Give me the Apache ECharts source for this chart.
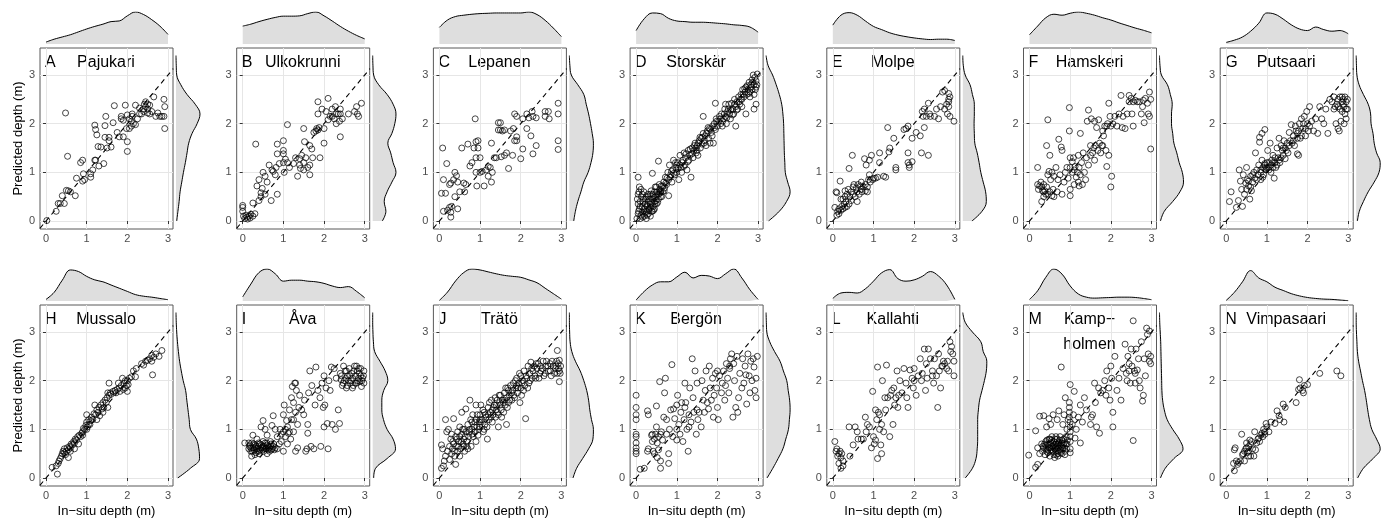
<!DOCTYPE html>
<html>
<head>
<meta charset="utf-8">
<script src="https://cdn.jsdelivr.net/npm/echarts@6/dist/echarts.min.js"></script>
<style>
  html, body { margin: 0; padding: 0; background: #fff; }
  #chart { width: 1389px; height: 521px; }
</style>
</head>
<body>
<div id="chart"></div>
<script>
// panel letters and site names
const letters = ['A', 'B', 'C', 'D', 'E', 'F', 'G', 'H', 'I', 'J', 'K', 'L', 'M', 'N'];
const sites = ['Pajukari', 'Ulkokrunni', 'Lepanen', 'Storskär', 'Molpe', 'Hamskeri', 'Putsaari',
               'Mussalo', 'Åva', 'Trätö', 'Bergön', 'Kallahti', 'Kamp−\nholmen', 'Vimpasaari'];

const tickValues = [0, 1, 2, 3];
const oneToOne = [-0.15, 3.13];

// marginal density sample positions
const densX = [0, 0.2, 0.4, 0.6, 0.8, 1, 1.2, 1.4, 1.6, 1.8, 2, 2.2, 2.4, 2.6, 2.8, 3];
const densY = ['0', '0.2', '0.4', '0.6', '0.8', '1', '1.2', '1.4', '1.6', '1.8', '2', '2.2', '2.4', '2.6', '2.8', '3', '3.2', '3.4'];

// [in-situ depth, predicted depth]
const ptsA = [[0.02,0.01],[0.3,0.36],[0.35,0.36],[0.45,0.36],[0.25,0.2],[0.4,0.52],[0.48,2.22],[0.53,1.33],[0.55,0.62],[0.5,0.63],[0.6,0.6],[0.72,0.52],[0.75,0.88],[0.85,1.2],[0.9,1.25],[0.92,0.97],[0.9,0.82],[0.95,0.85],[1.1,0.9],[1.1,0.97],[1.15,1.05],[1.2,1.25],[1.22,1.25],[1.2,1.97],[1.22,1.88],[1.25,1.77],[1.28,1.53],[1.3,1.13],[1.35,1.52],[1.42,1.18],[1.45,1.72],[1.45,1.96],[1.47,2.15],[1.5,1.5],[1.55,1.72],[1.55,1.65],[1.6,1.52],[1.65,2.02],[1.68,2.37],[1.75,1.82],[1.8,1.73],[1.85,2.15],[1.9,2.07],[1.9,1.73],[1.95,2.38],[1.98,1.9],[2.0,1.43],[2.0,1.63],[2.0,2.18],[2.05,2.1],[2.1,2.05],[2.1,1.95],[2.12,2.2],[2.15,2.0],[2.2,2.38],[2.2,1.98],[2.25,2.1],[2.3,2.32],[2.35,2.2],[2.4,2.3],[2.42,2.4],[2.45,2.45],[2.45,2.35],[2.5,2.3],[2.5,2.22],[2.55,2.38],[2.6,2.25],[2.65,2.55],[2.7,2.15],[2.75,2.22],[2.8,2.15],[2.85,2.15],[2.9,2.5],[2.92,2.35],[2.92,1.9],[2.9,2.15],[2.4,2.25],[2.3,2.2],[2.05,1.9],[1.85,2.1],[2.12,2.15],[2.5,2.4],[2.55,2.2]];
const ptsB = [[0,0.32],[0,0.28],[0,0.2],[0.02,0.1],[0.05,0.05],[0.08,0.12],[0.1,0.08],[0.12,0.04],[0.15,0.1],[0.18,0.06],[0.2,0.14],[0.25,0.1],[0.25,0.37],[0.3,0.15],[0.32,1.58],[0.35,0.72],[0.4,0.42],[0.4,0.85],[0.45,0.5],[0.45,0.58],[0.48,0.67],[0.5,1.0],[0.55,0.92],[0.55,0.55],[0.6,0.8],[0.65,1.15],[0.7,0.42],[0.72,1.05],[0.75,1.02],[0.8,0.95],[0.82,1.1],[0.85,1.58],[0.85,1.38],[0.85,0.55],[0.9,1.18],[1.0,1.65],[1.0,1.45],[1.0,1.38],[1.0,1.2],[1.02,1.0],[1.05,1.27],[1.1,1.98],[1.1,1.2],[1.15,1.1],[1.25,1.18],[1.3,1.3],[1.35,0.92],[1.4,1.15],[1.4,1.28],[1.42,1.08],[1.45,1.35],[1.5,1.2],[1.5,1.05],[1.5,1.9],[1.52,1.63],[1.55,1.3],[1.6,1.1],[1.65,1.55],[1.65,1.15],[1.65,0.95],[1.7,1.48],[1.72,1.3],[1.75,1.82],[1.8,1.85],[1.82,1.9],[1.85,2.45],[1.85,2.2],[1.85,1.87],[1.88,1.92],[1.9,1.3],[1.95,2.3],[2.0,1.6],[2.0,1.9],[2.05,2.25],[2.1,2.52],[2.1,2.08],[2.15,2.15],[2.2,2.3],[2.25,2.1],[2.28,2.35],[2.3,2.2],[2.3,2.0],[2.35,2.2],[2.38,2.05],[2.4,1.73],[2.4,2.3],[2.45,2.1],[2.6,2.2],[2.75,2.25],[2.8,2.35],[2.82,2.2],[2.85,2.15],[2.92,2.42],[2.4,2.2],[2.2,2.15]];
const ptsC = [[0.05,0.57],[0.08,1.5],[0.1,0.85],[0.1,0.2],[0.15,0.57],[0.18,1.18],[0.2,0.22],[0.25,0.28],[0.25,0.75],[0.28,0.78],[0.28,0.08],[0.28,0.18],[0.3,0.3],[0.35,0.85],[0.38,1.0],[0.38,0.5],[0.42,0.93],[0.45,0.25],[0.45,0.8],[0.5,0.6],[0.55,1.5],[0.6,0.78],[0.62,0.6],[0.65,0.75],[0.7,1.58],[0.75,1.13],[0.8,1.2],[0.85,1.5],[0.88,2.1],[0.9,1.63],[0.9,1.3],[0.9,1.0],[0.92,0.72],[0.95,1.65],[0.95,1.5],[1.0,1.3],[1.0,1.0],[1.05,1.02],[1.1,0.72],[1.15,1.05],[1.2,1.12],[1.2,0.92],[1.25,1.1],[1.28,1.6],[1.28,0.8],[1.3,1.0],[1.35,1.3],[1.4,1.3],[1.45,1.87],[1.45,2.02],[1.5,2.02],[1.5,1.87],[1.52,1.32],[1.55,1.85],[1.6,1.87],[1.6,1.35],[1.65,1.4],[1.7,1.08],[1.75,1.85],[1.8,1.35],[1.82,1.9],[1.85,2.2],[1.85,1.65],[1.9,1.65],[1.9,1.73],[1.9,2.15],[2.0,1.28],[2.05,1.48],[2.05,2.1],[2.15,2.2],[2.15,1.9],[2.2,2.12],[2.25,1.75],[2.28,2.25],[2.3,2.15],[2.3,1.38],[2.38,2.12],[2.38,1.55],[2.6,2.25],[2.6,2.15],[2.68,2.25],[2.7,2.1],[2.92,2.42],[2.92,2.2],[2.92,1.65],[2.92,1.47]];
const ptsD = [[0.02,0.05],[0.05,0.15],[0.05,0.35],[0.05,0.55],[0.05,0.9],[0.08,0.25],[0.08,0.7],[0.1,0.05],[0.1,0.4],[0.12,0.12],[0.12,0.65],[0.15,0.3],[0.15,0.18],[0.18,0.45],[0.2,0.1],[0.2,0.25],[0.22,0.35],[0.25,0.2],[0.25,0.5],[0.28,0.3],[0.3,0.15],[0.3,0.4],[0.32,0.25],[0.35,0.55],[0.35,0.35],[0.38,0.2],[0.4,0.45],[0.4,0.98],[0.42,0.3],[0.45,0.6],[0.45,0.4],[0.48,0.5],[0.5,0.35],[0.5,0.7],[0.52,0.55],[0.55,0.45],[0.55,1.23],[0.58,0.65],[0.6,0.5],[0.62,0.72],[0.65,0.6],[0.68,0.8],[0.7,0.68],[0.72,0.9],[0.75,0.75],[0.78,1.0],[0.8,0.52],[0.8,0.85],[0.82,1.15],[0.85,0.95],[0.88,0.8],[0.9,1.05],[0.92,1.25],[0.95,0.95],[0.98,1.1],[1.0,1.0],[1.02,1.2],[1.05,0.85],[1.08,1.35],[1.1,1.1],[1.12,1.0],[1.15,1.25],[1.18,1.4],[1.2,1.15],[1.22,1.3],[1.25,1.05],[1.28,1.45],[1.3,1.25],[1.32,1.35],[1.35,0.9],[1.38,1.5],[1.4,1.3],[1.42,1.45],[1.45,1.6],[1.48,1.4],[1.5,1.55],[1.52,1.35],[1.55,1.65],[1.58,1.5],[1.6,1.7],[1.62,1.58],[1.65,2.15],[1.65,1.8],[1.68,1.65],[1.7,1.75],[1.72,1.55],[1.75,1.85],[1.78,1.7],[1.8,1.9],[1.82,1.6],[1.85,1.82],[1.88,1.95],[1.9,1.6],[1.92,2.0],[1.95,2.42],[1.95,1.88],[1.98,2.05],[2.0,1.95],[2.05,2.15],[2.08,2.0],[2.1,2.2],[2.12,1.95],[2.15,2.1],[2.18,2.3],[2.2,2.15],[2.22,2.0],[2.25,2.25],[2.28,2.4],[2.3,2.2],[2.32,2.1],[2.35,2.42],[2.38,2.3],[2.4,2.2],[2.42,2.5],[2.45,1.95],[2.45,2.35],[2.48,2.45],[2.5,2.3],[2.52,2.55],[2.55,2.4],[2.58,2.6],[2.6,2.5],[2.62,2.7],[2.65,2.55],[2.68,2.65],[2.7,2.2],[2.7,2.75],[2.72,2.6],[2.75,2.7],[2.78,2.85],[2.8,2.65],[2.82,2.8],[2.85,2.9],[2.85,2.7],[2.88,3.0],[2.9,2.3],[2.9,2.8],[2.92,2.95],[2.95,2.4],[2.95,2.75],[2.95,2.88],[2.98,3.02],[2.9,2.6],[2.8,2.55],[2.6,2.35],[2.2,2.4],[1.5,1.45],[1.0,1.15],[0.6,0.6],[0.3,0.5],[0.15,0.55],[0.25,0.05],[0.35,0.1],[0.4,0.2],[0.45,0.25],
  [0.03,0.45],[0.06,0.2],[0.07,0.6],[0.1,0.3],[0.13,0.5],[0.16,0.08],[0.17,0.38],[0.19,0.6],[0.21,0.18],[0.23,0.45],[0.26,0.32],[0.27,0.12],[0.29,0.55],[0.31,0.22],[0.33,0.45],[0.36,0.28],[0.37,0.62],[0.39,0.38],[0.41,0.55],[0.43,0.22],[0.44,0.48],[0.46,0.35],[0.47,0.7],[0.49,0.42],[0.51,0.6],[0.53,0.38],[0.56,0.55],[0.57,0.75],[0.59,0.58],[0.61,0.62],[0.63,0.5],[0.66,0.72],[0.69,0.62],[0.73,0.78],[0.76,0.88],[0.84,0.9],[0.87,1.02],[0.93,0.98],[0.97,1.2],[1.03,1.08],[1.07,1.15],[1.13,1.2],[1.17,1.12],[1.23,1.38],[1.27,1.22],[1.33,1.48],[1.37,1.38],[1.43,1.55],[1.47,1.5],[1.53,1.6],[1.57,1.72],[1.63,1.72],[1.67,1.6],[1.73,1.8],[1.77,1.92],[1.83,1.88],[1.87,1.75],[1.93,1.92],[1.97,2.1],[2.03,2.05],[2.07,2.1],[2.13,2.05],[2.17,2.2],[2.23,2.12],[2.27,2.3],[2.33,2.28],[2.37,2.18],[2.43,2.4],[2.47,2.28],[2.53,2.45],[2.57,2.5],[2.63,2.6],[2.67,2.72],[2.73,2.78],[2.77,2.62],[2.83,2.75],[2.87,2.85],[2.93,2.7],[2.97,2.8]];
const ptsE = [[0.05,0.28],[0.08,0.6],[0.1,0.12],[0.1,0.58],[0.12,0.2],[0.15,0.25],[0.18,0.82],[0.2,0.22],[0.22,0.3],[0.25,0.25],[0.25,0.45],[0.28,0.35],[0.3,0.28],[0.3,0.5],[0.32,0.4],[0.35,0.3],[0.35,0.55],[0.38,0.65],[0.4,0.35],[0.4,1.08],[0.42,0.5],[0.45,0.6],[0.45,0.42],[0.48,1.35],[0.5,0.7],[0.5,0.55],[0.52,0.75],[0.55,0.5],[0.58,0.68],[0.6,0.6],[0.62,0.75],[0.65,0.55],[0.68,0.72],[0.7,0.65],[0.72,0.6],[0.75,0.7],[0.78,1.28],[0.8,0.62],[0.8,0.75],[0.82,1.15],[0.85,0.7],[0.88,0.85],[0.9,0.95],[0.9,1.25],[0.92,0.8],[0.95,1.35],[0.98,0.85],[1.0,0.88],[1.05,0.88],[1.1,0.9],[1.15,1.2],[1.15,1.4],[1.25,0.92],[1.3,0.9],[1.35,1.92],[1.38,1.42],[1.4,1.5],[1.5,1.7],[1.55,1.05],[1.55,1.1],[1.75,1.88],[1.8,1.9],[1.85,1.95],[1.85,1.4],[1.85,1.2],[1.88,1.1],[1.88,1.15],[1.95,1.7],[1.95,1.22],[2.05,1.82],[2.15,1.75],[2.18,1.4],[2.22,2.15],[2.25,1.92],[2.25,2.3],[2.3,2.15],[2.35,1.35],[2.35,2.42],[2.38,2.2],[2.4,2.15],[2.5,2.15],[2.55,2.3],[2.6,2.1],[2.65,2.35],[2.7,2.65],[2.75,2.68],[2.75,2.3],[2.8,2.4],[2.82,2.2],[2.85,2.62],[2.85,2.5],[2.85,2.45],[2.85,2.35],[2.88,2.55],[2.88,2.15],[2.98,2.05],[2.2,2.25],[0.6,0.4],[0.3,0.62],[0.15,0.15],[0.2,0.45],[0.7,0.8],[0.85,0.6]];
const ptsF = [[0.2,1.1],[0.2,0.75],[0.22,0.65],[0.25,0.72],[0.28,0.8],[0.3,0.7],[0.3,0.4],[0.32,0.62],[0.35,0.75],[0.35,0.5],[0.38,0.62],[0.4,0.55],[0.42,0.7],[0.42,1.55],[0.45,2.08],[0.45,0.95],[0.48,1.02],[0.5,0.6],[0.5,1.35],[0.52,0.85],[0.55,0.52],[0.55,1.0],[0.58,0.65],[0.6,0.92],[0.6,0.5],[0.65,1.1],[0.68,0.6],[0.7,0.85],[0.72,1.68],[0.75,0.95],[0.78,1.52],[0.8,1.45],[0.8,0.55],[0.85,0.8],[0.88,1.0],[0.92,1.1],[0.95,0.88],[0.98,2.33],[0.98,1.85],[1.0,1.3],[1.0,1.1],[1.0,0.65],[1.0,0.52],[1.05,1.0],[1.05,1.22],[1.08,1.3],[1.1,1.05],[1.12,1.12],[1.15,0.9],[1.18,1.0],[1.2,1.35],[1.2,0.8],[1.22,1.1],[1.22,0.72],[1.25,1.8],[1.25,0.95],[1.28,1.2],[1.3,0.75],[1.32,1.4],[1.35,1.0],[1.38,0.85],[1.4,1.3],[1.42,2.05],[1.45,1.15],[1.45,2.28],[1.5,1.55],[1.52,2.1],[1.55,1.4],[1.58,1.5],[1.6,2.05],[1.6,1.25],[1.62,1.55],[1.65,1.92],[1.68,1.45],[1.7,2.08],[1.72,1.6],[1.75,1.4],[1.78,1.55],[1.8,1.85],[1.8,1.55],[1.82,1.75],[1.85,1.95],[1.88,1.45],[1.9,1.12],[1.92,2.0],[1.95,2.42],[1.95,1.35],[1.98,2.15],[2.0,1.95],[2.0,0.7],[2.02,0.92],[2.05,2.0],[2.1,2.15],[2.15,1.95],[2.2,2.2],[2.25,2.58],[2.28,1.92],[2.35,1.9],[2.4,2.2],[2.45,2.58],[2.45,2.45],[2.5,2.52],[2.52,2.2],[2.55,1.95],[2.6,2.48],[2.65,2.45],[2.7,2.45],[2.75,2.2],[2.78,2.35],[2.8,2.48],[2.82,2.02],[2.85,2.52],[2.9,2.42],[2.92,2.2],[2.95,2.65],[2.95,2.15],[2.98,2.5],[2.98,1.48],[2.55,2.45],[2.3,2.15],[1.9,1.95],[1.5,1.35],[1.1,0.75],[0.35,0.6],[0.45,0.55]];
const ptsG = [[0.08,0.4],[0.12,0.6],[0.25,0.28],[0.3,0.42],[0.32,1.05],[0.35,0.82],[0.38,0.65],[0.4,0.3],[0.42,0.95],[0.45,0.55],[0.48,0.78],[0.5,1.1],[0.5,0.65],[0.52,0.85],[0.55,0.72],[0.58,0.45],[0.6,0.92],[0.62,0.62],[0.65,0.8],[0.68,1.0],[0.7,0.88],[0.72,1.4],[0.75,1.05],[0.78,0.95],[0.8,1.15],[0.82,1.72],[0.82,1.62],[0.85,1.0],[0.88,1.25],[0.88,1.8],[0.9,1.1],[0.92,0.95],[0.95,1.18],[0.95,1.88],[0.98,1.05],[1.0,1.2],[1.02,1.45],[1.05,1.1],[1.08,1.6],[1.1,1.0],[1.12,1.25],[1.15,1.35],[1.18,0.88],[1.2,1.2],[1.22,1.1],[1.25,1.5],[1.28,1.3],[1.3,1.7],[1.32,1.2],[1.35,1.55],[1.38,1.45],[1.4,1.35],[1.42,1.65],[1.45,1.28],[1.48,1.45],[1.5,1.6],[1.52,1.4],[1.55,1.82],[1.58,1.65],[1.6,1.98],[1.62,1.6],[1.65,1.75],[1.68,1.55],[1.7,1.95],[1.72,1.85],[1.75,1.7],[1.75,1.38],[1.78,1.35],[1.78,1.85],[1.8,2.0],[1.82,1.7],[1.85,2.1],[1.88,1.9],[1.9,2.0],[1.92,2.15],[1.95,1.75],[1.98,2.25],[2.0,2.0],[2.02,1.85],[2.05,2.35],[2.1,2.05],[2.15,1.85],[2.2,2.1],[2.25,1.8],[2.3,2.35],[2.35,2.1],[2.4,2.0],[2.45,2.3],[2.5,1.8],[2.55,2.5],[2.6,2.45],[2.65,2.55],[2.68,2.35],[2.7,2.0],[2.72,2.4],[2.75,1.9],[2.75,2.5],[2.78,1.85],[2.8,2.3],[2.8,2.55],[2.82,2.05],[2.85,2.45],[2.85,2.25],[2.88,2.5],[2.88,2.4],[2.9,2.35],[2.9,2.0],[2.92,2.55],[2.92,2.2],[2.95,2.45],[2.95,2.1],[2.98,2.3],[2.98,2.5],[1.0,1.1],[1.05,1.2],[0.95,1.08],[1.1,1.15],[1.15,1.1],[0.9,0.9],[0.85,0.85],[1.2,1.3],[1.3,1.25],[1.4,1.5],[0.6,0.7],
  [0.55,0.82],[0.65,0.95],[0.75,0.85],[0.85,1.05],[0.95,1.15],[1.05,1.05],[1.15,1.2],[1.25,1.15],[1.35,1.3],[1.45,1.5],[1.55,1.55],[1.65,1.65],[1.75,1.8],[1.85,1.75],[1.95,1.9],[2.05,1.95],[2.65,2.3],[2.75,2.35],[2.85,2.55],[2.95,2.3]];
const ptsH = [[0.15,0.22],[0.28,0.08],[0.25,0.25],[0.3,0.3],[0.32,0.35],[0.35,0.4],[0.38,0.45],[0.4,0.5],[0.42,0.55],[0.45,0.52],[0.45,0.6],[0.48,0.48],[0.5,0.55],[0.52,0.62],[0.55,0.42],[0.55,0.58],[0.58,0.65],[0.6,0.62],[0.62,0.7],[0.65,0.68],[0.68,0.75],[0.7,0.72],[0.72,0.8],[0.75,0.78],[0.78,0.85],[0.8,0.7],[0.82,0.88],[0.85,0.85],[0.88,0.92],[0.9,0.95],[0.92,1.02],[0.95,1.0],[0.98,1.08],[1.0,1.15],[1.0,1.3],[1.02,1.05],[1.05,1.2],[1.08,1.1],[1.1,1.18],[1.12,1.25],[1.15,1.2],[1.18,1.32],[1.2,1.5],[1.22,1.3],[1.25,1.4],[1.28,1.35],[1.3,1.45],[1.32,1.28],[1.35,1.5],[1.38,1.42],[1.4,1.55],[1.42,1.45],[1.45,1.6],[1.48,1.55],[1.5,1.65],[1.52,1.75],[1.52,1.45],[1.55,1.95],[1.55,1.7],[1.58,1.75],[1.6,1.72],[1.65,1.78],[1.7,1.8],[1.72,1.75],[1.75,1.82],[1.78,1.95],[1.8,1.85],[1.82,1.78],[1.85,1.9],[1.88,2.05],[1.9,1.82],[1.92,1.95],[1.95,2.0],[1.98,1.9],[2.0,2.0],[2.02,1.92],[2.05,2.05],[2.1,2.08],[2.15,2.2],[2.2,2.08],[2.22,2.25],[2.35,2.35],[2.4,2.32],[2.45,2.4],[2.5,2.42],[2.55,2.45],[2.6,2.52],[2.62,2.12],[2.65,2.48],[2.7,2.55],[2.78,2.5],[2.85,2.62],[2.6,2.4],[1.0,1.0],[1.05,1.1],[0.6,0.55],[0.7,0.6],[0.9,0.88],[1.95,1.85],[2.0,1.78],[1.25,1.2],[1.4,1.35]];
const ptsI = [[0.05,0.72],[0.15,0.6],[0.18,0.68],[0.2,0.55],[0.22,0.45],[0.22,0.72],[0.25,0.62],[0.28,0.58],[0.3,0.68],[0.32,0.52],[0.35,0.6],[0.35,0.8],[0.38,0.65],[0.4,0.55],[0.4,0.5],[0.42,0.7],[0.45,0.62],[0.45,1.05],[0.48,0.58],[0.5,1.18],[0.5,0.65],[0.52,0.55],[0.55,0.72],[0.55,1.0],[0.58,0.6],[0.6,0.68],[0.6,0.88],[0.62,0.58],[0.65,0.62],[0.68,0.75],[0.7,0.58],[0.72,1.08],[0.75,1.28],[0.75,0.65],[0.78,0.58],[0.8,1.0],[0.85,0.85],[0.9,0.7],[0.92,1.0],[0.95,0.75],[1.0,0.55],[1.0,0.95],[1.0,1.3],[1.02,1.5],[1.05,0.85],[1.08,1.18],[1.1,0.7],[1.1,1.05],[1.12,0.92],[1.15,1.4],[1.18,0.8],[1.2,1.2],[1.2,1.65],[1.22,1.88],[1.25,0.95],[1.25,1.55],[1.28,1.95],[1.3,1.35],[1.3,0.55],[1.32,1.8],[1.35,0.62],[1.35,1.1],[1.38,1.45],[1.4,1.7],[1.45,1.4],[1.5,1.3],[1.52,1.6],[1.55,0.55],[1.58,0.6],[1.6,0.92],[1.6,1.1],[1.62,1.75],[1.65,2.2],[1.68,0.65],[1.7,1.9],[1.75,0.6],[1.78,1.5],[1.8,2.28],[1.85,1.8],[1.9,1.65],[1.92,0.65],[1.95,1.95],[1.98,1.45],[2.0,2.1],[2.0,1.05],[2.02,1.5],[2.05,1.85],[2.08,1.12],[2.1,0.6],[2.12,2.0],[2.15,1.8],[2.18,2.28],[2.2,1.1],[2.25,2.25],[2.28,1.0],[2.3,2.05],[2.35,1.4],[2.38,1.12],[2.4,2.15],[2.42,2.02],[2.45,1.9],[2.48,2.3],[2.5,2.0],[2.52,2.2],[2.55,1.85],[2.58,2.1],[2.6,2.0],[2.62,2.25],[2.65,1.95],[2.68,2.15],[2.7,2.05],[2.72,1.9],[2.75,2.3],[2.78,2.1],[2.8,1.95],[2.82,2.2],[2.85,2.25],[2.85,2.05],[2.88,1.98],[2.9,2.1],[2.92,1.88],[2.95,2.05],[2.98,2.2],[2.98,1.95],[2.9,2.25],[1.3,1.95],[0.3,0.48],[0.6,0.5],[0.25,0.88],[0.15,0.72],[0.7,0.7],[0.5,0.75],
  [0.17,0.65],[0.2,0.62],[0.24,0.55],[0.27,0.7],[0.29,0.62],[0.33,0.65],[0.36,0.55],[0.39,0.72],[0.43,0.58],[0.46,0.68],[0.49,0.62],[0.53,0.65],[0.56,0.6],[0.59,0.72],[0.63,0.65],[0.66,0.55],[0.69,0.65],[0.73,0.6],[0.76,0.7],[0.8,0.62],[0.85,0.6],[0.95,0.9],[1.05,1.0],[1.15,0.95],[1.25,1.2],[2.43,2.1],[2.47,1.95],[2.53,2.05],[2.57,1.9],[2.63,2.1],[2.67,2.0],[2.73,2.2],[2.77,1.95],[2.83,2.0],[2.87,2.15],[2.93,2.0],[2.97,2.1],[2.55,2.2],[2.7,1.85],[2.8,2.3]];
const ptsJ = [[0.05,0.68],[0.08,0.6],[0.1,0.25],[0.12,0.35],[0.15,0.45],[0.15,1.2],[0.18,0.95],[0.2,0.55],[0.22,1.0],[0.25,0.65],[0.25,0.38],[0.28,0.8],[0.3,0.5],[0.3,0.9],[0.32,0.6],[0.35,0.7],[0.35,1.22],[0.38,0.45],[0.4,0.28],[0.4,0.85],[0.42,0.65],[0.45,0.95],[0.45,0.55],[0.48,0.75],[0.5,0.85],[0.5,1.05],[0.52,0.6],[0.55,0.9],[0.55,1.35],[0.58,0.7],[0.6,0.8],[0.6,1.0],[0.62,0.55],[0.65,0.95],[0.65,1.42],[0.68,0.75],[0.7,1.1],[0.72,0.85],[0.75,1.0],[0.75,1.6],[0.78,0.65],[0.8,1.15],[0.8,0.9],[0.82,1.3],[0.85,1.05],[0.88,0.95],[0.9,1.2],[0.9,1.5],[0.92,1.05],[0.95,0.88],[0.98,1.15],[1.0,1.3],[1.0,1.05],[1.02,1.5],[1.05,1.2],[1.08,0.95],[1.1,1.35],[1.12,1.1],[1.15,1.25],[1.18,0.8],[1.2,1.45],[1.22,1.2],[1.25,1.35],[1.28,1.6],[1.3,1.15],[1.32,1.3],[1.35,1.5],[1.38,1.25],[1.4,1.4],[1.42,1.6],[1.45,1.05],[1.45,1.3],[1.48,1.55],[1.5,1.7],[1.52,1.4],[1.55,1.6],[1.58,1.35],[1.6,1.75],[1.62,1.5],[1.65,1.1],[1.65,1.65],[1.68,1.85],[1.7,1.55],[1.72,1.7],[1.75,1.9],[1.78,1.6],[1.8,1.8],[1.82,1.95],[1.85,1.65],[1.88,1.85],[1.9,2.05],[1.92,1.75],[1.95,1.95],[1.98,1.55],[2.0,2.1],[2.0,1.85],[2.02,1.7],[2.05,2.0],[2.08,2.2],[2.1,1.9],[2.12,1.22],[2.15,2.05],[2.18,2.3],[2.2,1.95],[2.22,2.15],[2.25,2.38],[2.28,2.05],[2.3,2.2],[2.35,2.1],[2.38,2.35],[2.4,2.25],[2.45,2.05],[2.48,2.3],[2.5,2.2],[2.55,2.4],[2.6,2.15],[2.62,2.3],[2.68,2.2],[2.72,2.35],[2.75,2.1],[2.8,2.3],[2.85,2.25],[2.88,2.4],[2.9,2.62],[2.9,2.15],[2.92,2.35],[2.95,1.98],[2.95,2.2],[2.98,2.3],[2.95,2.42],[1.1,1.0],[1.3,1.4],[0.5,0.45],[0.7,0.6],[0.9,0.75],[1.5,1.5],[1.7,1.8],[1.9,1.9],[0.05,0.2],
  [0.33,0.75],[0.37,0.55],[0.43,0.8],[0.47,0.65],[0.53,0.75],[0.57,1.0],[0.63,0.85],[0.67,0.65],[0.73,0.95],[0.77,1.2],[0.83,0.85],[0.87,1.15],[0.93,1.3],[0.97,1.0],[1.03,1.15],[1.07,1.4],[1.13,1.3],[1.17,1.05],[1.23,1.55],[1.27,1.25],[1.33,1.45],[1.37,1.65],[1.43,1.35],[1.47,1.7],[1.53,1.25],[1.57,1.55],[1.63,1.85],[1.67,1.45],[1.73,1.6],[1.77,1.75],[1.83,1.7],[1.87,2.0],[1.93,1.85],[1.97,2.15],[2.03,1.95],[2.07,1.8],[2.13,2.1],[2.17,1.85],[2.23,2.0],[2.27,2.25],[2.33,2.3],[2.37,2.05],[2.43,2.35],[2.47,2.15],[2.53,2.25],[2.57,2.1],[2.63,2.4],[2.67,2.3],[2.73,2.2],[2.77,2.4],[2.83,2.15],[2.87,2.3],[2.93,2.25],[2.97,2.15],[0.6,0.65],[0.8,1.0],[1.0,1.2],[1.2,1.3],[1.4,1.5],[1.6,1.6]];
const ptsK = [[0,1.7],[0,1.45],[0,1.3],[0,1.2],[0,0.9],[0,0.85],[0,0.72],[0,0.62],[0,0.55],[0,0.5],[0.1,0.18],[0.2,0.2],[0.28,0.55],[0.3,0.6],[0.28,1.38],[0.3,1.3],[0.38,0.88],[0.4,0.75],[0.42,0.55],[0.45,0.8],[0.45,0.5],[0.48,0.9],[0.5,1.48],[0.5,1.05],[0.52,0.72],[0.52,0.42],[0.55,0.85],[0.55,0.58],[0.58,1.98],[0.6,0.35],[0.6,0.2],[0.62,0.95],[0.65,0.78],[0.68,1.25],[0.7,1.75],[0.72,2.05],[0.75,1.2],[0.75,0.9],[0.8,0.5],[0.8,0.3],[0.82,1.0],[0.85,1.4],[0.88,2.33],[0.9,0.85],[0.92,1.42],[0.95,1.22],[1.0,1.5],[1.0,0.78],[1.02,1.7],[1.05,1.1],[1.08,0.9],[1.1,1.35],[1.12,1.55],[1.15,0.75],[1.18,1.2],[1.2,1.95],[1.22,1.55],[1.25,1.0],[1.28,0.55],[1.3,1.3],[1.32,1.85],[1.35,1.15],[1.38,2.45],[1.4,1.65],[1.42,1.35],[1.45,2.2],[1.48,0.9],[1.5,1.95],[1.52,1.2],[1.55,1.35],[1.6,1.05],[1.62,2.0],[1.65,1.6],[1.68,1.35],[1.7,1.8],[1.72,2.2],[1.75,1.55],[1.78,1.42],[1.8,2.3],[1.82,1.85],[1.85,1.6],[1.88,2.05],[1.9,1.25],[1.92,1.7],[1.95,2.15],[1.98,1.85],[2.0,1.45],[2.02,1.2],[2.05,2.1],[2.1,1.75],[2.12,1.95],[2.15,2.2],[2.18,1.6],[2.2,1.9],[2.22,2.35],[2.25,2.05],[2.28,1.75],[2.3,2.25],[2.32,2.45],[2.35,2.55],[2.38,1.25],[2.4,2.35],[2.42,2.0],[2.45,1.45],[2.48,2.5],[2.5,1.35],[2.52,1.65],[2.55,2.15],[2.6,1.85],[2.62,2.45],[2.65,1.95],[2.68,2.3],[2.7,2.12],[2.72,1.52],[2.75,2.55],[2.78,2.1],[2.8,1.75],[2.82,2.4],[2.85,2.0],[2.88,2.45],[2.9,2.28],[2.92,1.8],[2.95,1.65],[2.98,2.5],[2.95,2.05],[2.3,2.3],[2.0,2.2],[1.5,1.4],[1.0,1.0],[0.6,0.9],[0.4,0.9],[1.2,1.45],[1.3,1.05]];
const ptsL = [[0.05,0.75],[0.08,0.55],[0.1,0.6],[0.12,0.45],[0.15,0.5],[0.15,0.3],[0.18,0.55],[0.2,0.42],[0.2,0.2],[0.22,0.5],[0.25,0.25],[0.25,0.35],[0.4,1.05],[0.42,0.45],[0.5,0.68],[0.55,1.05],[0.6,0.95],[0.62,0.8],[0.7,0.8],[0.75,0.8],[0.8,1.25],[0.82,0.95],[0.85,1.1],[0.9,1.05],[0.95,0.62],[0.98,1.78],[1.0,0.85],[1.02,0.7],[1.05,1.4],[1.05,0.78],[1.08,1.2],[1.1,2.28],[1.1,0.4],[1.12,1.35],[1.15,1.3],[1.15,1.0],[1.18,0.68],[1.2,1.1],[1.2,0.5],[1.22,2.0],[1.25,0.95],[1.28,1.65],[1.3,1.4],[1.32,2.32],[1.35,1.65],[1.4,0.85],[1.42,1.7],[1.45,1.8],[1.48,1.1],[1.5,1.85],[1.52,1.5],[1.55,1.65],[1.58,2.2],[1.6,1.45],[1.62,1.7],[1.65,2.0],[1.7,1.75],[1.75,2.25],[1.8,1.95],[1.82,1.65],[1.85,1.45],[1.9,2.22],[1.95,2.05],[1.98,1.85],[2.0,2.25],[2.05,1.7],[2.1,2.1],[2.15,2.45],[2.18,2.0],[2.2,2.15],[2.25,2.65],[2.28,1.8],[2.3,2.35],[2.32,2.05],[2.35,2.65],[2.4,2.45],[2.45,2.2],[2.48,1.95],[2.5,2.45],[2.55,2.1],[2.58,1.45],[2.6,2.55],[2.62,2.2],[2.65,1.85],[2.68,2.3],[2.72,2.4],[2.75,2.35],[2.8,2.25],[2.82,2.4],[2.85,2.2],[2.88,2.8],[2.9,2.6],[2.92,2.7],[2.95,2.55],[2.98,2.4],[2.98,2.1],[2.7,2.3],[2.45,2.1],[2.0,2.0]];
const ptsM = [[-0.02,0.47],[0.15,0.22],[0.2,0.28],[0.15,0.97],[0.2,0.62],[0.25,0.5],[0.25,1.27],[0.3,0.7],[0.32,0.55],[0.35,1.28],[0.35,0.62],[0.38,0.48],[0.4,0.75],[0.4,0.6],[0.42,1.05],[0.45,0.68],[0.45,0.52],[0.48,1.22],[0.48,0.8],[0.5,0.62],[0.5,0.45],[0.52,0.72],[0.52,1.1],[0.55,0.55],[0.55,0.85],[0.58,0.65],[0.58,1.3],[0.6,0.48],[0.6,0.75],[0.62,0.6],[0.62,0.42],[0.65,0.7],[0.65,0.55],[0.68,0.8],[0.68,1.2],[0.7,0.62],[0.7,0.45],[0.72,0.72],[0.72,1.38],[0.75,0.58],[0.75,0.85],[0.78,0.65],[0.78,2.28],[0.8,0.5],[0.8,0.78],[0.82,1.1],[0.82,0.62],[0.85,0.72],[0.85,1.3],[0.88,0.55],[0.88,1.65],[0.9,0.85],[0.92,1.0],[0.92,0.7],[0.95,1.2],[0.98,1.55],[0.98,1.45],[0.98,1.35],[0.98,1.25],[1.0,1.15],[1.0,1.05],[1.0,0.95],[1.0,0.85],[1.0,0.75],[1.0,0.6],[1.0,0.52],[1.0,1.92],[1.05,1.1],[1.08,1.3],[1.1,1.78],[1.12,0.82],[1.15,1.0],[1.2,1.25],[1.25,1.5],[1.25,0.72],[1.3,1.15],[1.35,1.65],[1.4,1.4],[1.5,1.1],[1.52,1.25],[1.55,1.3],[1.6,1.95],[1.62,1.55],[1.65,1.05],[1.7,1.85],[1.72,0.92],[1.75,1.75],[1.8,1.8],[1.85,2.0],[1.88,1.7],[1.9,2.2],[1.95,1.85],[1.98,1.6],[2.0,2.3],[2.02,2.05],[2.05,1.35],[2.05,1.05],[2.1,2.5],[2.15,1.8],[2.2,2.05],[2.25,1.6],[2.3,2.25],[2.35,2.75],[2.38,2.15],[2.4,2.0],[2.42,2.5],[2.45,2.2],[2.48,1.95],[2.5,2.65],[2.52,2.3],[2.55,3.23],[2.55,0.77],[2.58,2.2],[2.6,1.95],[2.62,2.65],[2.65,2.22],[2.68,2.45],[2.7,2.0],[2.72,1.85],[2.75,2.8],[2.78,1.58],[2.8,1.7],[2.82,2.45],[2.85,2.1],[2.88,3.08],[2.9,2.95],[2.92,2.55],[2.95,3.02],[2.95,2.4],[2.98,2.5],[2.98,2.35],[2.45,2.35],[2.6,2.15],[0.5,0.8],[0.45,0.58],[0.55,0.65],[0.65,0.85],[0.4,0.68],[0.7,0.5],
  [0.33,0.65],[0.37,0.7],[0.42,0.55],[0.43,0.78],[0.47,0.62],[0.49,0.7],[0.53,0.58],[0.54,0.78],[0.57,0.72],[0.59,0.55],[0.61,0.68],[0.63,0.8],[0.64,0.62],[0.66,0.48],[0.67,0.65],[0.69,0.7],[0.71,0.55],[0.73,0.65],[0.74,0.78],[0.76,0.68],[0.77,0.52],[0.79,0.72],[0.81,0.6],[0.83,0.68],[0.84,0.8],[0.86,0.62],[0.87,0.48],[0.89,0.7],[0.91,0.6],[0.93,0.78]];
const ptsN = [[0.18,0.3],[0.2,0.58],[0.22,0.62],[0.2,0.15],[0.25,0.35],[0.28,0.28],[0.3,0.32],[0.35,0.35],[0.38,0.9],[0.4,0.48],[0.42,0.5],[0.45,0.35],[0.45,0.55],[0.48,0.6],[0.5,0.72],[0.5,0.62],[0.52,0.52],[0.55,0.65],[0.55,0.55],[0.58,0.78],[0.6,0.45],[0.6,0.7],[0.62,0.75],[0.65,0.6],[0.68,0.45],[0.7,0.95],[0.72,0.58],[0.75,0.72],[0.78,0.8],[0.8,0.82],[0.82,0.75],[0.85,0.88],[0.88,0.92],[0.9,0.85],[0.92,1.0],[0.95,0.95],[0.98,1.12],[1.0,1.05],[1.05,0.95],[1.1,1.15],[1.2,1.12],[1.25,1.38],[1.3,1.28],[1.32,1.2],[1.4,1.52],[1.42,1.15],[1.45,1.45],[1.72,1.55],[1.78,1.82],[1.8,2.02],[1.82,1.85],[1.88,1.8],[1.92,1.9],[1.9,1.75],[2.0,1.92],[2.3,2.15],[2.72,2.2],[2.82,2.1],[0.55,0.45],[0.95,0.9]];

// marginal densities (scaled to panel max): top = in-situ, side = predicted
const topA = [0.06,0.15,0.22,0.29,0.38,0.47,0.55,0.62,0.7,0.72,0.88,1.0,0.92,0.76,0.56,0.3];
const sideA = [0.03,0.08,0.13,0.17,0.24,0.31,0.39,0.46,0.53,0.67,0.88,1.0,0.8,0.46,0.2,0.03,0.01,0];
const topB = [0.56,0.62,0.7,0.77,0.83,0.87,0.87,0.88,0.95,1.0,0.88,0.72,0.55,0.4,0.27,0.16];
const sideB = [0.4,0.55,0.48,0.6,0.8,0.97,0.85,0.75,0.63,0.8,0.92,0.97,0.85,0.6,0.25,0.04,0.01,0];
const topC = [0.52,0.75,0.86,0.9,0.93,0.95,0.96,0.97,0.97,0.97,0.97,1.0,0.92,0.74,0.5,0.23];
const sideC = [0.18,0.25,0.35,0.48,0.6,0.78,0.9,0.98,1.0,0.95,0.88,0.8,0.7,0.6,0.35,0.08,0.02,0];
const topD = [0.42,0.79,0.97,0.95,0.8,0.72,0.7,0.68,0.68,0.67,0.65,0.63,0.6,0.58,0.53,0.37];
const sideD = [0.1,0.55,0.85,1.0,0.9,0.8,0.78,0.76,0.75,0.74,0.73,0.7,0.65,0.55,0.42,0.27,0.08,0];
const topE = [0.59,0.9,0.98,0.9,0.72,0.55,0.45,0.35,0.28,0.23,0.19,0.16,0.14,0.15,0.15,0.11];
const sideE = [0.38,0.8,0.98,0.95,0.85,0.75,0.68,0.6,0.5,0.48,0.47,0.48,0.48,0.4,0.3,0.1,0.02,0];
const topF = [0.29,0.56,0.82,0.93,0.9,0.96,1.0,0.96,0.9,0.82,0.75,0.66,0.58,0.5,0.43,0.35];
const sideF = [0.04,0.2,0.55,0.85,1.0,0.95,0.82,0.72,0.6,0.55,0.5,0.5,0.53,0.45,0.33,0.08,0.02,0];
const topG = [0.05,0.12,0.22,0.4,0.65,0.97,0.93,0.78,0.6,0.47,0.42,0.53,0.45,0.4,0.42,0.32];
const sideG = [0.05,0.13,0.3,0.5,0.75,0.95,1.0,0.85,0.75,0.7,0.62,0.6,0.5,0.3,0.12,0.03,0.01,0];
const topH = [0.05,0.27,0.65,0.97,0.92,0.77,0.66,0.6,0.5,0.4,0.3,0.2,0.15,0.12,0.08,0.04];
const sideH = [0.07,0.6,0.98,0.95,0.85,0.6,0.55,0.5,0.45,0.4,0.3,0.22,0.15,0.1,0.06,0.03,0.01,0];
const topI = [0.13,0.53,0.89,1.0,0.85,0.62,0.65,0.65,0.62,0.6,0.55,0.47,0.42,0.45,0.3,0.1];
const sideI = [0.04,0.12,0.6,0.95,0.85,0.6,0.45,0.38,0.38,0.46,0.63,0.52,0.3,0.08,0.03,0.01,0,0];
const topJ = [0.02,0.28,0.63,0.89,1.0,0.97,0.91,0.85,0.8,0.77,0.74,0.66,0.57,0.4,0.23,0.06];
const sideJ = [0.15,0.3,0.55,0.8,0.98,1.0,0.92,0.85,0.8,0.72,0.6,0.45,0.25,0.1,0.03,0.01,0,0];
const topK = [0.03,0.3,0.5,0.6,0.6,0.75,0.9,0.72,0.8,0.78,0.7,0.85,1.0,0.72,0.35,0.05];
const sideK = [0.04,0.28,0.5,0.7,0.82,0.93,0.97,1.0,0.98,0.92,0.86,0.72,0.58,0.35,0.15,0.03,0.01,0];
const topL = [0.08,0.25,0.27,0.25,0.38,0.62,0.88,0.98,0.7,0.62,0.66,0.77,0.92,0.78,0.5,0.05];
const sideL = [0.1,0.4,0.55,0.6,0.62,0.62,0.62,0.65,0.7,0.8,0.9,0.98,1.0,0.85,0.75,0.4,0.1,0];
const topM = [0.05,0.32,0.74,1.0,0.84,0.47,0.22,0.12,0.09,0.1,0.11,0.12,0.12,0.11,0.08,0.04];
const sideM = [0.04,0.24,0.6,0.98,0.82,0.55,0.32,0.2,0.13,0.1,0.09,0.08,0.07,0.06,0.05,0.03,0.01,0];
const topN = [0.02,0.27,0.6,0.95,0.72,0.6,0.43,0.33,0.23,0.16,0.11,0.08,0.06,0.05,0.03,0.01];
const sideN = [0.06,0.3,0.7,1.0,0.85,0.65,0.55,0.48,0.42,0.35,0.26,0.18,0.1,0.05,0.03,0.01,0,0];

const panels = [
  [ptsA, topA, sideA], [ptsB, topB, sideB], [ptsC, topC, sideC], [ptsD, topD, sideD],
  [ptsE, topE, sideE], [ptsF, topF, sideF], [ptsG, topG, sideG], [ptsH, topH, sideH],
  [ptsI, topI, sideI], [ptsJ, topJ, sideJ], [ptsK, topK, sideK], [ptsL, topL, sideL],
  [ptsM, topM, sideM], [ptsN, topN, sideN]
];

const FONT = '"Liberation Sans", Arial, sans-serif';
const X_MIN = -0.148, X_MAX = 3.123;
const Y_MIN = -0.164, Y_MAX = 3.555;
const BOX_W = 133, BOX_H = 181;

const grid = [], xAxis = [], yAxis = [], series = [], graphic = [];
const hidden = { show: false };
const gridLine = { show: true, lineStyle: { color: '#e6e6e6', width: 1 } };

panels.forEach(([pts, top, side], i) => {
  const col = i % 7, row = Math.floor(i / 7);
  const left = 40 + col * 196.7;
  const gTop = row === 0 ? 48 : 305;
  const g = grid.length;

  // main scatter panel
  grid.push({ left, top: gTop, width: BOX_W, height: BOX_H, show: true,
              borderColor: '#595959', borderWidth: 1, backgroundColor: '#fff',
              containLabel: false, outerBoundsMode: 'none' });
  xAxis.push({
    gridIndex: g, type: 'value', min: X_MIN, max: X_MAX, splitNumber: 6,
    axisLine: hidden,
    axisTick: { show: true, customValues: tickValues, length: 3, lineStyle: { color: '#333' } },
    axisLabel: { customValues: tickValues, color: '#4d4d4d', fontSize: 11, margin: 4, fontFamily: FONT },
    splitLine: gridLine,
    name: row === 1 ? 'In−situ depth (m)' : '',
    nameLocation: 'middle', nameGap: 19,
    nameTextStyle: { fontSize: 13, color: '#000', fontFamily: FONT }
  });
  yAxis.push({
    gridIndex: g, type: 'value', min: Y_MIN, max: Y_MAX, splitNumber: 7,
    axisLine: hidden,
    axisTick: { show: true, customValues: tickValues, length: 3, lineStyle: { color: '#333' } },
    axisLabel: { customValues: tickValues, color: '#4d4d4d', fontSize: 11, margin: 5, fontFamily: FONT },
    splitLine: gridLine,
    name: col === 0 ? 'Predicted depth (m)' : '',
    nameLocation: 'middle', nameGap: 15,
    nameTextStyle: { fontSize: 13, color: '#000', fontFamily: FONT }
  });
  series.push({
    type: 'line', xAxisIndex: g, yAxisIndex: g, silent: true, symbol: 'none',
    data: oneToOne.map(v => [v, v]),
    lineStyle: { color: '#000', width: 1.1, type: [5, 4] }, z: 2
  });
  series.push({
    type: 'scatter', xAxisIndex: g, yAxisIndex: g, silent: true,
    data: pts, symbol: 'circle', symbolSize: 6,
    itemStyle: { color: 'rgba(0,0,0,0)', borderColor: '#000', borderWidth: 0.9 }, z: 3
  });

  // top marginal density (in-situ depth)
  grid.push({ left, top: row === 0 ? 12 : 269, width: BOX_W, height: 32,
              containLabel: false, outerBoundsMode: 'none' });
  xAxis.push({ gridIndex: g + 1, type: 'value', min: X_MIN, max: X_MAX, show: false });
  yAxis.push({ gridIndex: g + 1, type: 'value', min: 0, max: 1, show: false });
  series.push({
    type: 'line', xAxisIndex: g + 1, yAxisIndex: g + 1, silent: true, symbol: 'none',
    smooth: 0.4, data: densX.map((x, k) => [x, top[k]]),
    lineStyle: { color: '#000', width: 1 }, areaStyle: { color: '#dedede', opacity: 1 }
  });

  // side marginal density (predicted depth), y = 0 .. 3.4
  const pxPerUnit = BOX_H / (Y_MAX - Y_MIN);
  const sideTop = gTop + (Y_MAX - 3.4) * pxPerUnit;
  grid.push({ left: left + 136, top: sideTop, width: 24, height: 3.4 * pxPerUnit,
              containLabel: false, outerBoundsMode: 'none' });
  xAxis.push({ gridIndex: g + 2, type: 'value', min: 0, max: 1, show: false });
  yAxis.push({ gridIndex: g + 2, type: 'category', data: densY, boundaryGap: false, show: false });
  series.push({
    type: 'line', xAxisIndex: g + 2, yAxisIndex: g + 2, silent: true, symbol: 'none',
    smooth: 0.4, data: side,
    lineStyle: { color: '#000', width: 1 }, areaStyle: { color: '#dedede', opacity: 1 }
  });

  // panel annotations
  graphic.push({ type: 'text', x: left + 5, y: gTop + 2.5, silent: true,
    style: { text: letters[i], font: '16px ' + FONT, fill: '#000', lineHeight: 25, verticalAlign: 'top' } });
  graphic.push({ type: 'text', x: left + 66, y: gTop + 2.5, silent: true,
    style: { text: sites[i], font: '16px ' + FONT, fill: '#000', lineHeight: 25,
             align: 'center', verticalAlign: 'top' } });
});

const chart = echarts.init(document.getElementById('chart'), null, { renderer: 'canvas' });
chart.setOption({
  animation: false,
  backgroundColor: '#fff',
  textStyle: { fontFamily: FONT },
  grid, xAxis, yAxis, series, graphic
});
window.addEventListener('resize', () => chart.resize());
</script>
</body>
</html>
